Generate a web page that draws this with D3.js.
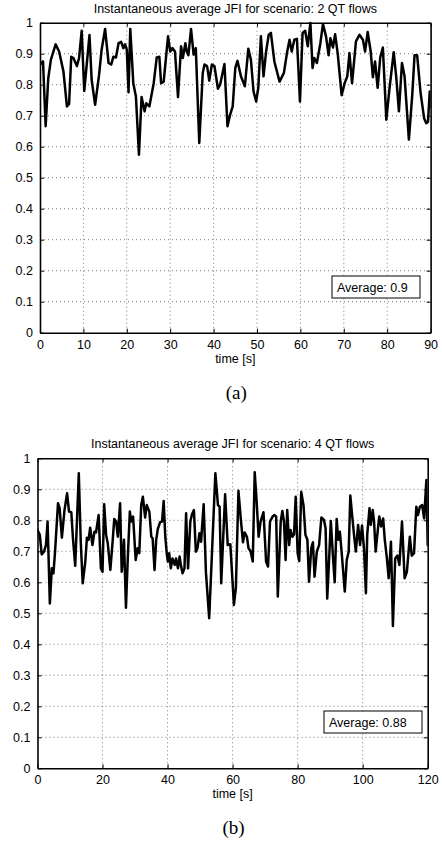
<!DOCTYPE html>
<html><head><meta charset="utf-8">
<script src="https://cdn.jsdelivr.net/npm/d3@7/dist/d3.min.js"></script>
<style>
html,body{margin:0;padding:0;background:#fff;}
svg{display:block;}
text{font-family:"Liberation Sans",Arial,Helvetica,sans-serif;fill:#000;}
</style></head>
<body>
<svg id="chart" width="442" height="846"></svg>
<script>
// ---------- Data ----------
const titleA = "Instantaneous average JFI for scenario: 2 QT flows";
const titleB = "Instantaneous average JFI for scenario: 4 QT flows";
const xLabel = "time [s]";
const captionA = "(a)";
const captionB = "(b)";
const legendA = "Average: 0.9";
const legendB = "Average: 0.88";
const yTicks = [0, 0.1, 0.2, 0.3, 0.4, 0.5, 0.6, 0.7, 0.8, 0.9, 1];
const yTickLabels = ["0", "0.1", "0.2", "0.3", "0.4", "0.5", "0.6", "0.7", "0.8", "0.9", "1"];
const xTicksA = [0, 10, 20, 30, 40, 50, 60, 70, 80, 90];
const xTicksB = [0, 20, 40, 60, 80, 100, 120];

const timeA = [0,0.7,1.3,1.9,2.5,3.6,4.4,5.4,6.2,6.7,
7.2,7.7,8.5,9.0,9.6,10.2,11.4,11.9,12.7,13.6,
14.2,15.0,15.8,16.4,16.9,17.5,18.1,18.7,19.2,19.6,
20.0,20.4,20.8,21.5,22.1,22.8,23.4,24.1,24.5,25.2,
26.2,26.9,27.5,27.9,28.5,29.5,30.0,30.5,31.1,31.8,
32.5,32.9,33.5,33.8,34.2,34.8,35.4,35.9,36.7,37.5,
37.9,38.5,39.0,39.6,40.2,41.0,41.5,42.5,43.2,43.8,
44.4,45.0,45.5,46.3,47.2,48.0,48.6,49.2,49.8,50.3,
50.9,51.5,52.1,52.7,53.2,54.0,55.2,56.2,56.9,57.5,
58.0,58.6,59.2,59.9,60.5,61.1,61.7,62.3,62.8,63.2,
63.8,64.6,65.2,65.9,66.5,66.9,67.5,68.0,68.6,69.5,
70.2,70.8,71.3,71.9,72.8,73.6,74.4,74.9,75.5,76.2,
76.7,77.2,77.8,78.4,79.0,79.8,80.5,81.5,82.1,82.7,
83.4,84.0,85.0,85.8,86.3,86.9,87.7,88.5,89.0,89.4,
89.8,90.0];
const jfiA = [0.865,0.875,0.666,0.82,0.88,0.93,0.907,0.843,0.73,0.738,
0.89,0.886,0.86,0.886,0.974,0.78,0.96,0.816,0.735,0.83,
0.913,0.98,0.87,0.865,0.89,0.888,0.934,0.938,0.918,0.93,
0.913,0.776,0.98,0.805,0.762,0.574,0.76,0.714,0.74,0.73,
0.805,0.888,0.89,0.805,0.81,0.956,0.907,0.918,0.907,0.76,
0.924,0.886,0.934,0.907,0.895,0.98,0.897,0.918,0.612,0.838,
0.865,0.86,0.813,0.865,0.86,0.787,0.8,0.867,0.666,0.703,
0.73,0.854,0.877,0.827,0.795,0.916,0.88,0.778,0.746,0.79,
0.956,0.827,0.907,0.961,0.967,0.875,0.81,0.838,0.902,0.945,
0.907,0.945,0.948,0.746,0.967,0.974,0.924,0.999,0.854,0.886,
0.87,0.934,0.996,0.956,0.895,0.95,0.92,0.963,0.9,0.766,
0.805,0.827,0.902,0.805,0.94,0.961,0.945,0.907,0.97,0.907,
0.824,0.875,0.79,0.888,0.92,0.687,0.784,0.905,0.822,0.714,
0.87,0.827,0.623,0.773,0.895,0.895,0.773,0.692,0.676,0.68,
0.778,0.73];

const timeB = [0,0.7,1.3,2.0,2.6,3.1,3.8,4.4,4.9,5.4,
6.3,6.8,7.5,8.3,9.1,9.7,10.4,10.9,11.6,12.7,
13.3,13.9,14.7,15.2,15.7,16.2,16.9,17.5,18.0,18.8,
19.5,20.0,20.5,21.1,21.6,22.4,23.1,23.6,24.2,24.7,
25.4,25.9,26.6,27.2,27.8,28.4,28.8,29.4,30.2,30.8,
31.3,31.9,32.4,33.1,33.6,34.4,35.0,35.4,36.0,36.5,
37.0,37.7,38.3,38.8,39.3,39.8,40.1,40.5,41.0,41.5,
42.2,42.6,43.2,43.7,44.1,44.6,45.2,45.7,46.3,47.0,
47.5,48.1,48.7,49.2,49.8,50.3,51.1,51.8,52.8,54.7,
55.5,56.0,56.5,57.7,58.5,59.3,60.4,61.0,61.8,62.5,
63.2,63.7,64.4,64.9,65.5,66.2,66.8,67.4,68.0,68.6,
69.5,70.3,70.9,71.5,72.3,72.9,73.4,73.9,74.8,75.3,
75.8,76.3,76.8,77.4,77.8,78.4,78.9,79.4,80.0,80.5,
81.1,81.8,82.4,83.0,83.5,84.2,84.7,85.2,85.9,86.6,
87.3,88.1,88.6,89.1,89.6,90.2,90.9,91.4,92.0,92.5,
93.0,93.6,94.5,95.1,95.7,96.2,96.8,97.4,97.9,98.6,
99.2,99.8,100.4,101.0,101.4,102.1,102.5,103.1,103.5,104.0,
104.5,105.1,105.7,106.3,106.8,107.4,108.0,108.7,109.3,110.0,
110.7,111.3,112.1,112.9,113.6,114.5,115.1,115.8,116.5,117.0,
117.6,118.3,118.9,119.6,120.0];
const jfiB = [0.769,0.753,0.69,0.699,0.72,0.796,0.532,0.645,0.629,0.699,
0.855,0.839,0.744,0.833,0.887,0.828,0.826,0.742,0.653,0.952,
0.731,0.597,0.667,0.744,0.737,0.776,0.72,0.763,0.761,0.817,
0.645,0.634,0.852,0.753,0.726,0.64,0.731,0.804,0.796,0.747,
0.855,0.634,0.737,0.518,0.688,0.828,0.796,0.812,0.672,0.71,
0.694,0.849,0.876,0.809,0.849,0.828,0.747,0.742,0.64,0.737,
0.772,0.794,0.796,0.862,0.747,0.688,0.667,0.694,0.645,0.677,
0.656,0.677,0.645,0.683,0.656,0.629,0.645,0.823,0.645,0.796,
0.819,0.833,0.699,0.71,0.758,0.731,0.852,0.632,0.484,0.952,
0.849,0.844,0.597,0.884,0.72,0.723,0.527,0.581,0.895,0.806,
0.729,0.761,0.747,0.71,0.701,0.667,0.955,0.86,0.747,0.796,
0.826,0.667,0.651,0.796,0.812,0.817,0.812,0.554,0.796,0.83,
0.796,0.672,0.833,0.72,0.769,0.747,0.755,0.876,0.694,0.669,
0.892,0.849,0.753,0.737,0.602,0.71,0.729,0.618,0.699,0.72,
0.809,0.801,0.774,0.548,0.656,0.798,0.677,0.6,0.804,0.737,
0.763,0.688,0.57,0.672,0.699,0.88,0.812,0.747,0.699,0.785,
0.72,0.783,0.71,0.565,0.753,0.839,0.785,0.833,0.796,0.699,
0.753,0.812,0.78,0.806,0.737,0.683,0.613,0.731,0.459,0.677,
0.686,0.656,0.796,0.613,0.634,0.747,0.686,0.694,0.844,0.817,
0.844,0.849,0.806,0.93,0.72];

// ---------- Drawing ----------
const svg = d3.select("#chart");
const FS = 12.5;

function drawPanel(cfg) {
  const {left, right, top, bottom, xMax, xTicks, times, vals, title, caption, legend, legendBox} = cfg;
  const x = d3.scaleLinear().domain([0, xMax]).range([left, right]);
  const y = d3.scaleLinear().domain([0, 1]).range([bottom, top]);
  const g = svg.append("g");

  // grid
  g.append("g").selectAll("line").data(xTicks.slice(1, -1)).join("line")
    .attr("x1", d => x(d)).attr("x2", d => x(d)).attr("y1", top).attr("y2", bottom)
    .attr("stroke", "#7a7a7a").attr("stroke-width", 1).attr("stroke-dasharray", "1,3");
  g.append("g").selectAll("line").data(yTicks.slice(1, -1)).join("line")
    .attr("x1", left).attr("x2", right).attr("y1", d => y(d)).attr("y2", d => y(d))
    .attr("stroke", "#7a7a7a").attr("stroke-width", 1).attr("stroke-dasharray", "1,3");

  // data line
  const data = times.map((t, i) => [t, vals[i]]);
  const clipId = "clip" + Math.round(top);
  svg.append("clipPath").attr("id", clipId).append("rect")
    .attr("x", left).attr("y", top - 2).attr("width", right - left).attr("height", bottom - top + 2);
  g.append("path").datum(data)
    .attr("clip-path", `url(#${clipId})`)
    .attr("fill", "none").attr("stroke", "#000").attr("stroke-width", 2.5)
    .attr("stroke-linejoin", "round").attr("stroke-linecap", "round")
    .attr("d", d3.line().x(d => x(d[0])).y(d => y(d[1])));

  // axes (MATLAB-like box with inward ticks)
  const xAxisB = d3.axisBottom(x).tickValues(xTicks).tickSizeInner(-4).tickSizeOuter(0).tickFormat(d3.format("d")).tickPadding(7);
  g.append("g").attr("transform", `translate(0,${bottom})`).call(xAxisB);
  const xAxisT = d3.axisTop(x).tickValues(xTicks).tickSizeInner(-4).tickSizeOuter(0).tickFormat("");
  g.append("g").attr("transform", `translate(0,${top})`).call(xAxisT);
  const yAxisL = d3.axisLeft(y).tickValues(yTicks).tickSizeInner(-4).tickSizeOuter(0)
    .tickFormat((d, i) => yTickLabels[i]).tickPadding(7);
  g.append("g").attr("transform", `translate(${left},0)`).call(yAxisL);
  const yAxisR = d3.axisRight(y).tickValues(yTicks).tickSizeInner(-4).tickSizeOuter(0).tickFormat("");
  g.append("g").attr("transform", `translate(${right},0)`).call(yAxisR);
  g.selectAll(".domain").attr("stroke", "#000").attr("stroke-width", 1.6);
  g.selectAll(".tick line").attr("stroke", "#000").attr("stroke-width", 1);
  g.selectAll(".tick text").attr("font-size", FS).attr("font-family", "Liberation Sans, Arial, sans-serif").attr("fill", "#000");

  // title
  g.append("text").attr("x", (left + right) / 2).attr("y", top - 10)
    .attr("text-anchor", "middle").attr("font-size", FS).text(title);
  // x label
  g.append("text").attr("x", (left + right) / 2).attr("y", bottom + 30)
    .attr("text-anchor", "middle").attr("font-size", FS).text(xLabel);
  // caption
  g.append("text").attr("x", (left + right) / 2 + 1).attr("y", bottom + 66)
    .attr("text-anchor", "middle").attr("font-size", 19)
    .style("font-family", "'Liberation Serif','Times New Roman',serif").text(caption);

  // legend box
  g.append("rect").attr("x", legendBox[0]).attr("y", legendBox[1])
    .attr("width", legendBox[2]).attr("height", legendBox[3])
    .attr("fill", "#fff").attr("stroke", "#000").attr("stroke-width", 1);
  g.append("text").attr("x", legendBox[0] + 5).attr("y", legendBox[1] + legendBox[3] / 2 + 4.5)
    .attr("font-size", FS).text(legend);
}

drawPanel({left: 40, right: 430.6, top: 22.7, bottom: 332.7, xMax: 90, xTicks: xTicksA,
  times: timeA, vals: jfiA, title: titleA, caption: captionA, legend: legendA,
  legendBox: [332, 276, 88, 22]});
drawPanel({left: 37.5, right: 427.7, top: 458.3, bottom: 768.3, xMax: 120, xTicks: xTicksB,
  times: timeB, vals: jfiB, title: titleB, caption: captionB, legend: legendB,
  legendBox: [324, 711, 98, 22]});
</script>
</body></html>
